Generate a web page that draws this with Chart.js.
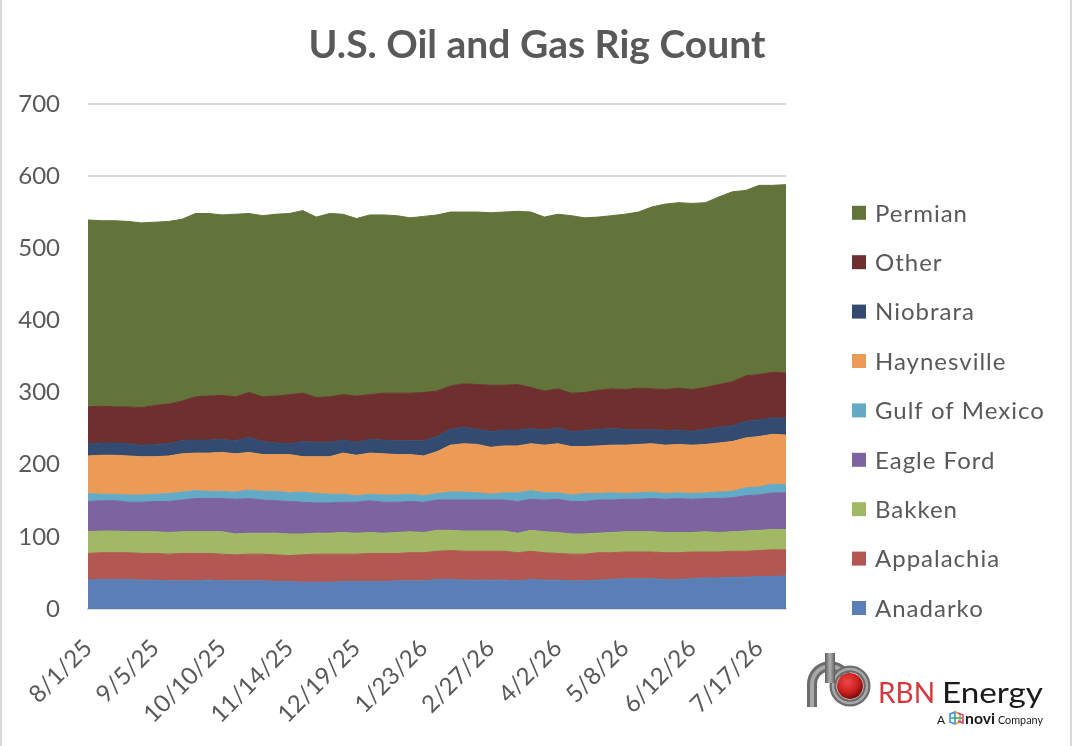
<!DOCTYPE html>
<html>
<head>
<meta charset="utf-8">
<title>U.S. Oil and Gas Rig Count</title>
<script src="https://cdn.jsdelivr.net/npm/chart.js@4.4.1/dist/chart.umd.min.js"></script>
<style>
  body { margin: 0; background: #fff; }
  #wrap { position: relative; width: 1074px; height: 746px; overflow: hidden; }
  #rigChart { position: absolute; left: 0; top: 0; }
  .edge { position: absolute; top: 0; width: 2px; height: 746px; background: #d9d9d9; }
  #logo { position: absolute; left: 0; top: 0; pointer-events: none; }
</style>
</head>
<body>
<div id="wrap">
  <canvas id="rigChart" width="1074" height="746"></canvas>
  <div class="edge" style="left:0"></div>
  <div class="edge" style="left:1070px"></div>
  <svg id="logo" width="1074" height="746">
    <defs>
      <linearGradient id="pipe" x1="0" y1="0" x2="1" y2="0">
        <stop offset="0" stop-color="#5e5e5e"/>
        <stop offset="0.5" stop-color="#b0b0b0"/>
        <stop offset="1" stop-color="#5e5e5e"/>
      </linearGradient>
      <radialGradient id="ball" cx="0.4" cy="0.35" r="0.7">
        <stop offset="0" stop-color="#f04848"/>
        <stop offset="0.6" stop-color="#c81e1e"/>
        <stop offset="1" stop-color="#6a0a0a"/>
      </radialGradient>
    </defs>
    <path d="M812 707 V684 A18 18 0 0 1 846 676" fill="none" stroke="#6b6b6b" stroke-width="10"/>
    <path d="M812 707 V684 A18 18 0 0 1 846 676" fill="none" stroke="#a8a8a8" stroke-width="4"/>
    <circle cx="850" cy="686" r="17" fill="none" stroke="#6b6b6b" stroke-width="7"/>
    <circle cx="850" cy="686" r="17" fill="none" stroke="#a8a8a8" stroke-width="2.5"/>
    <circle cx="850" cy="686" r="13" fill="url(#ball)"/>
    <rect x="825" y="653" width="10" height="30" fill="url(#pipe)"/>
    <text x="878" y="703" font-family="Lato" font-size="29" fill="#d6373c" textLength="57" lengthAdjust="spacingAndGlyphs">RBN</text>
    <text x="942" y="703" font-family="Lato" font-size="29" fill="#1a1a1a" textLength="101" lengthAdjust="spacingAndGlyphs">Energy</text>
    <text x="937" y="724" font-family="Lato" font-size="12" fill="#1a1a1a">A</text>
    <g stroke-width="1.6" fill="none">
      <path d="M950 714 L955 712 L955 724 L950 722 Z" stroke="#3d8fd6"/>
      <path d="M955 712 L960 714 L960 722 L955 724" stroke="#e0a020"/>
      <path d="M958 713 L963 715 L963 723 L958 721" stroke="#d04080"/>
      <path d="M951 718 L962 718" stroke="#40b060"/>
    </g>
    <text x="965" y="724" font-family="Lato" font-size="16" font-weight="bold" fill="#1a1a1a" textLength="30" lengthAdjust="spacingAndGlyphs">novi</text>
    <text x="998" y="724" font-family="Lato" font-size="12" fill="#1a1a1a" textLength="45" lengthAdjust="spacingAndGlyphs">Company</text>
  </svg>
</div>
<script>
// weekly report dates
const weeks = [
  '8/1/25', '8/8/25', '8/15/25', '8/22/25', '8/29/25',
  '9/5/25', '9/12/25', '9/19/25', '9/26/25',
  '10/3/25', '10/10/25', '10/17/25', '10/24/25', '10/31/25',
  '11/7/25', '11/14/25', '11/21/25', '11/26/25',
  '12/5/25', '12/12/25', '12/19/25', '12/24/25',
  '1/2/26', '1/9/26', '1/16/26', '1/23/26', '1/30/26',
  '2/6/26', '2/13/26', '2/20/26', '2/27/26',
  '3/6/26', '3/13/26', '3/20/26', '3/27/26',
  '4/2/26', '4/10/26', '4/17/26', '4/24/26',
  '5/1/26', '5/8/26', '5/15/26', '5/22/26', '5/29/26',
  '6/5/26', '6/12/26', '6/19/26', '6/26/26',
  '7/2/26', '7/10/26', '7/17/26', '7/24/26', '7/31/26'
];

// rigs by basin
const anadarko = [40, 41, 41, 41, 40, 40, 39, 39, 39, 40, 39, 39, 39, 39, 38, 38, 37, 37,
  37, 38, 38, 38, 38, 39, 39, 39, 41, 41, 40, 40, 40, 40, 39, 41, 40, 40,
  39, 39, 40, 41, 42, 42, 42, 41, 41, 42, 43, 43, 44, 44, 45, 45, 46];
const appalachia = [37, 37, 37, 37, 37, 37, 37, 38, 38, 37, 37, 36, 37, 37, 37, 36, 38, 39,
  39, 38, 38, 39, 39, 38, 39, 39, 39, 40, 40, 40, 40, 40, 39, 39, 38, 37,
  37, 37, 38, 37, 37, 37, 37, 37, 37, 37, 36, 36, 36, 36, 36, 37, 36];
const bakken = [30, 30, 30, 29, 30, 30, 30, 30, 30, 30, 31, 29, 29, 29, 30, 30, 29, 29,
  29, 30, 29, 29, 28, 29, 29, 28, 29, 28, 28, 28, 28, 28, 27, 29, 29, 29,
  28, 28, 27, 28, 28, 28, 28, 28, 28, 27, 28, 27, 27, 28, 28, 28, 28];
const eagleFord = [42, 42, 42, 41, 41, 42, 43, 44, 46, 46, 46, 48, 48, 46, 45, 45, 44, 42,
  42, 42, 43, 44, 43, 42, 42, 42, 42, 42, 43, 43, 43, 43, 44, 43, 44, 46,
  45, 45, 46, 45, 45, 45, 46, 46, 47, 46, 46, 47, 47, 49, 49, 51, 51];
const gulf = [11, 9, 9, 10, 10, 10, 11, 11, 11, 10, 10, 10, 12, 12, 13, 12, 14, 13,
  12, 11, 9, 9, 10, 10, 10, 9, 9, 11, 11, 10, 8, 10, 12, 12, 10, 9,
  9, 11, 9, 10, 8, 9, 9, 8, 8, 8, 8, 9, 9, 11, 11, 12, 11];
const haynesville = [52, 54, 54, 54, 53, 52, 52, 53, 52, 53, 54, 53, 52, 51, 51, 53, 49, 51,
  52, 57, 56, 57, 57, 56, 55, 55, 58, 65, 67, 67, 65, 65, 65, 65, 66, 68,
  67, 65, 66, 66, 67, 67, 67, 67, 67, 67, 67, 68, 69, 69, 70, 69, 69];
const niobrara = [17, 17, 17, 17, 16, 17, 17, 18, 18, 18, 18, 18, 21, 18, 16, 15, 21, 20,
  20, 18, 18, 19, 19, 19, 19, 21, 21, 22, 23, 21, 22, 22, 22, 21, 21, 22,
  21, 22, 23, 23, 22, 20, 20, 20, 20, 19, 21, 22, 22, 23, 23, 23, 23];
const other = [51, 51, 50, 51, 52, 54, 55, 55, 60, 61, 61, 61, 62, 62, 65, 68, 67, 62,
  63, 63, 64, 62, 65, 66, 66, 67, 63, 60, 60, 62, 64, 62, 63, 57, 54, 54,
  53, 53, 54, 55, 55, 58, 56, 57, 58, 58, 58, 59, 61, 63, 63, 63, 63];
const permian = [259, 257, 258, 257, 256, 254, 253, 252, 254, 253, 250, 253, 248, 251, 252, 251, 253, 250,
  254, 250, 246, 249, 247, 246, 243, 244, 244, 241, 238, 239, 239, 240, 240, 243, 241, 242,
  246, 242, 240, 240, 243, 244, 252, 257, 257, 258, 256, 260, 263, 257, 262, 259, 261];

const yTicks = [0, 100, 200, 300, 400, 500, 600, 700];

const series = [
  ['Anadarko', anadarko, '#5a7fb7'],
  ['Appalachia', appalachia, '#b25752'],
  ['Bakken', bakken, '#a1b965'],
  ['Eagle Ford', eagleFord, '#7d649e'],
  ['Gulf of Mexico', gulf, '#63aac6'],
  ['Haynesville', haynesville, '#eb9b56'],
  ['Niobrara', niobrara, '#344b71'],
  ['Other', other, '#6e2f2f'],
  ['Permian', permian, '#62743a']
];

const textGrey = '#595959';

// legend on the right, top series first
const sideLegend = {
  id: 'sideLegend',
  afterDraw(chart) {
    const { ctx, chartArea } = chart;
    const sets = chart.data.datasets;
    ctx.save();
    ctx.font = '24px Lato';
    ctx.letterSpacing = '1px';
    ctx.textBaseline = 'middle';
    const x = chartArea.right + 66;
    let y = chartArea.top + 109;
    for (let k = sets.length - 1; k >= 0; k--) {
      ctx.fillStyle = sets[k].backgroundColor;
      ctx.fillRect(x, y - 7, 14, 14);
      ctx.fillStyle = textGrey;
      ctx.fillText(sets[k].label, x + 23, y + 1);
      y += 49.4;
    }
    ctx.restore();
  }
};

const ctx = document.getElementById('rigChart').getContext('2d');
new Chart(ctx, {
  type: 'line',
  data: {
    labels: weeks,
    datasets: series.map(([label, data, color], i) => ({
      label,
      data,
      backgroundColor: color,
      borderColor: color,
      borderWidth: 1,
      pointRadius: 0,
      tension: 0,
      fill: i === 0 ? 'origin' : '-1'
    }))
  },
  options: {
    responsive: false,
    animation: false,
    layout: { padding: 0 },
    plugins: {
      legend: { display: false },
      tooltip: { enabled: false },
      title: {
        display: true,
        text: 'U.S. Oil and Gas Rig Count',
        color: textGrey,
        font: { family: 'Lato', size: 39, weight: 'bold' },
        padding: { top: 22, bottom: 35 }
      }
    },
    scales: {
      x: {
        grid: { display: false, drawTicks: false },
        border: { display: true, color: '#d9d9d9', width: 2 },
        // fixed axis band below the plot, room on the right for the legend
        afterFit: (scale) => {
          scale.height = 137;
          scale.paddingLeft = 0;
          scale.paddingRight = 288;
        },
        ticks: {
          autoSkip: false,
          maxRotation: 45,
          minRotation: 45,
          padding: 25,
          color: textGrey,
          font: { family: 'Lato', size: 24 },
          callback: (v, i) => (i % 5 === 0 ? weeks[i] : '')
        }
      },
      y: {
        stacked: true,
        min: yTicks[0],
        max: yTicks[yTicks.length - 1],
        afterBuildTicks: (scale) => { scale.ticks = yTicks.map(v => ({ value: v })); },
        afterFit: (scale) => { scale.width = 88; },
        grid: { color: '#d9d9d9', lineWidth: 2, drawTicks: false },
        border: { display: false },
        ticks: {
          padding: 28,
          color: textGrey,
          font: { family: 'Lato', size: 24 }
        }
      }
    }
  },
  plugins: [sideLegend]
});
</script>
</body>
</html>
